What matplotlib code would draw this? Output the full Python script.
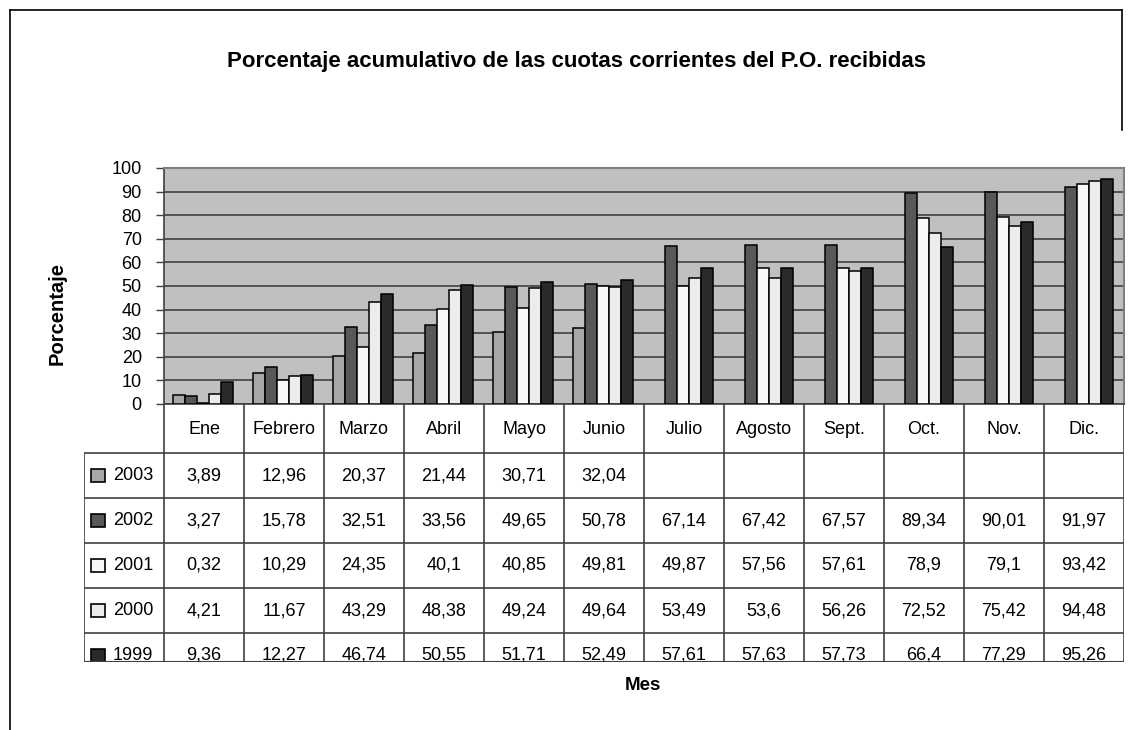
import matplotlib
matplotlib.use("Agg")
import matplotlib.pyplot as plt
from matplotlib.patches import Rectangle
from matplotlib.lines import Line2D
import numpy as np

plt.rcParams['font.family'] = ['Liberation Sans', 'DejaVu Sans']

# ---------------- data ----------------
months = ["Ene", "Febrero", "Marzo", "Abril", "Mayo", "Junio",
          "Julio", "Agosto", "Sept.", "Oct.", "Nov.", "Dic."]
years = ["2003", "2002", "2001", "2000", "1999"]
v2003 = [3.89, 12.96, 20.37, 21.44, 30.71, 32.04, None, None, None, None, None, None]
v2002 = [3.27, 15.78, 32.51, 33.56, 49.65, 50.78, 67.14, 67.42, 67.57, 89.34, 90.01, 91.97]
v2001 = [0.32, 10.29, 24.35, 40.1, 40.85, 49.81, 49.87, 57.56, 57.61, 78.9, 79.1, 93.42]
v2000 = [4.21, 11.67, 43.29, 48.38, 49.24, 49.64, 53.49, 53.6, 56.26, 72.52, 75.42, 94.48]
v1999 = [9.36, 12.27, 46.74, 50.55, 51.71, 52.49, 57.61, 57.63, 57.73, 66.4, 77.29, 95.26]
series = [v2003, v2002, v2001, v2000, v1999]
colors = ["#a8a8a8", "#585858", "#f8f8f8", "#ececec", "#2a2a2a"]
yticks = list(range(0, 101, 10))

title = "Porcentaje acumulativo de las cuotas corrientes del P.O. recibidas"
ylabel = "Porcentaje"
xlabel = "Mes"

# ---------------- layout (pixels) ----------------
W, H = 1128, 730
fig = plt.figure(figsize=(W / 100, H / 100), dpi=100)

def fx(px):
    return px / W

def fy(py):
    return 1 - py / H

plot_l, plot_r, plot_t, plot_b = 164, 1124, 168, 404
tab_l, tab_b = 84, 662

ax = fig.add_axes([fx(plot_l), fy(plot_b), fx(plot_r - plot_l), (plot_b - plot_t) / H])
tax = fig.add_axes([fx(tab_l), fy(tab_b), fx(plot_r - tab_l), (tab_b - plot_b) / H])

fs = 13

# ---------------- bar chart ----------------
ax.set_facecolor("#c0c0c0")
x = np.arange(len(months))
bw = 0.15
for i, (vals, c) in enumerate(zip(series, colors)):
    xs = [xi + (i - 2.1) * bw for xi, v in zip(x, vals) if v is not None]
    hs = [v for v in vals if v is not None]
    ax.bar(xs, hs, width=bw, color=c, edgecolor="black", linewidth=1.1, zorder=3)

ax.set_xlim(-0.5, len(months) - 0.5)
ax.set_ylim(0, 100)
ax.set_yticks(yticks)
ax.set_yticklabels([str(t) for t in yticks], fontsize=fs)
ax.set_xticks([])
ax.yaxis.grid(True, color="#404040", linewidth=1.2, zorder=1)
ax.set_axisbelow(True)
ax.tick_params(axis="y", length=6, width=1, color="#404040", pad=10, direction="out")
for s in ["left", "bottom"]:
    ax.spines[s].set_color("#404040")
    ax.spines[s].set_linewidth(1.2)
for s in ["top", "right"]:
    ax.spines[s].set_color("#808080")
    ax.spines[s].set_linewidth(1.5)

# ---------------- data table ----------------
tax.set_xlim(-1.5, len(months) - 0.5)
tax.set_ylim(tab_b - plot_b, 0)
tax.axis("off")
lc = "#404040"
lw = 1.2
header_h = 49
row_h = 45
nrows = len(years)
row_tops = [header_h + k * row_h for k in range(nrows)]
total = tab_b - plot_b

for k in range(len(months) + 1):
    tax.plot([k - 0.5, k - 0.5], [0, total], color=lc, lw=lw, solid_capstyle="butt")
tax.plot([-1.5, -1.5], [header_h, total], color=lc, lw=lw, solid_capstyle="butt")
for yt in row_tops:
    tax.plot([-1.5, len(months) - 0.5], [yt, yt], color=lc, lw=lw, solid_capstyle="butt")
tax.plot([-1.5, len(months) - 0.5], [total - 0.5, total - 0.5], color=lc, lw=1.5, solid_capstyle="butt")

for j, m in enumerate(months):
    tax.text(j, header_h / 2 + 1, m, ha="center", va="center", fontsize=fs)
for r, (yr, vals, c) in enumerate(zip(years, series, colors)):
    yc = row_tops[r] + row_h / 2
    tax.add_patch(Rectangle((-1.41, yc - 6.5), 0.17, 13, facecolor=c,
                            edgecolor="black", linewidth=1.2, clip_on=True))
    tax.text(-1.14, yc, yr, ha="left", va="center", fontsize=fs, clip_on=True)
    for j, v in enumerate(vals):
        if v is None:
            continue
        s = ("%g" % v).replace(".", ",")
        tax.text(j, yc, s, ha="center", va="center", fontsize=fs, clip_on=True)

# ---------------- labels ----------------
fig.text(fx(577), fy(61), title, ha="center", va="center", fontsize=16, fontweight="bold")
fig.text(fx(57), fy(313), ylabel, ha="center", va="center", rotation=90,
         fontsize=14.5, fontweight="bold")
fig.text(fx(643), fy(686), xlabel, ha="center", va="center", fontsize=13.5,
         fontweight="bold")

# outer border (partial frame of the chart area)
fig.add_artist(Line2D([fx(10), fx(10)], [fy(10), fy(730)], color="black", lw=1.2))
fig.add_artist(Line2D([fx(10), fx(1122)], [fy(10), fy(10)], color="black", lw=1.2))
fig.add_artist(Line2D([fx(1122), fx(1122)], [fy(10), fy(130)], color="black", lw=1.2))

fig.savefig("out.png", dpi=100)
